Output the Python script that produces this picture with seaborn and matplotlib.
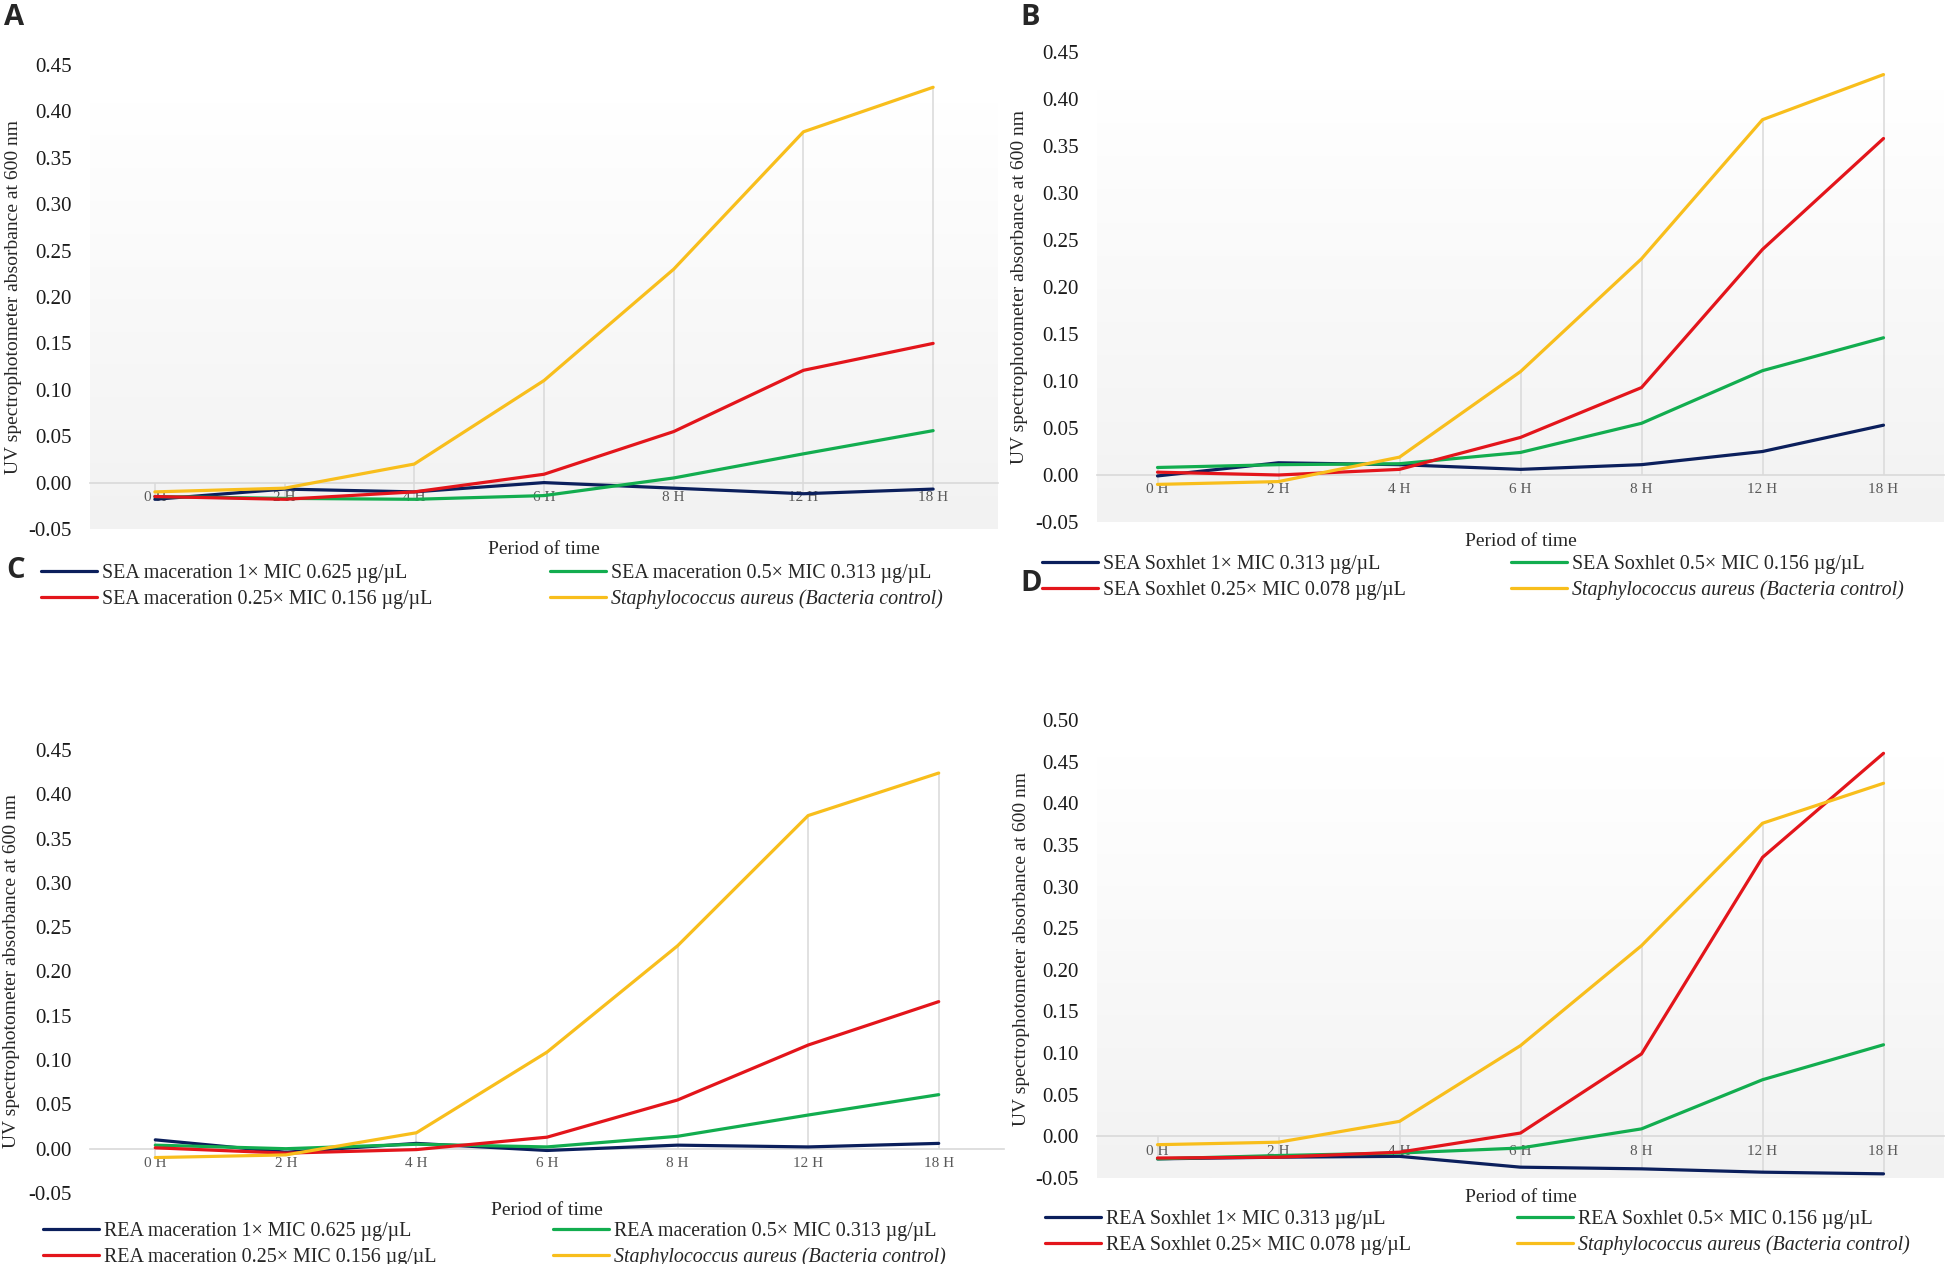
import numpy as np
import pandas as pd
import matplotlib.pyplot as plt
import seaborn as sns
from matplotlib.colors import LinearSegmentedColormap

sns.set_style("white")
plt.rcParams['font.family'] = ['Liberation Serif', 'DejaVu Serif']

hours = ["0 H", "2 H", "4 H", "6 H", "8 H", "12 H", "18 H"]

# control is the same bacteria in every panel
control_label = "Staphylococcus aureus (Bacteria control)"

# A - SEA maceration
a_labels = ["SEA maceration 1× MIC 0.625 µg/µL", "SEA maceration 0.5× MIC 0.313 µg/µL",
            "SEA maceration 0.25× MIC 0.156 µg/µL", control_label]
a_1x = [-0.018, -0.007, -0.010, 0.000, -0.006, -0.012, -0.007]
a_05x = [-0.015, -0.017, -0.018, -0.014, 0.005, 0.031, 0.056]
a_025x = [-0.015, -0.018, -0.010, 0.009, 0.055, 0.121, 0.150]
a_ctrl = [-0.010, -0.006, 0.020, 0.110, 0.230, 0.378, 0.426]

# B - SEA Soxhlet
b_labels = ["SEA Soxhlet 1× MIC 0.313 µg/µL", "SEA Soxhlet 0.5× MIC 0.156 µg/µL",
            "SEA Soxhlet 0.25× MIC 0.078 µg/µL", control_label]
b_1x = [-0.001, 0.013, 0.011, 0.006, 0.011, 0.025, 0.053]
b_05x = [0.008, 0.011, 0.012, 0.024, 0.055, 0.111, 0.146]
b_025x = [0.003, 0.000, 0.006, 0.040, 0.093, 0.240, 0.358]
b_ctrl = [-0.010, -0.007, 0.019, 0.110, 0.230, 0.378, 0.426]

# C - REA maceration
c_labels = ["REA maceration 1× MIC 0.625 µg/µL", "REA maceration 0.5× MIC 0.313 µg/µL",
            "REA maceration 0.25× MIC 0.156 µg/µL", control_label]
c_1x = [0.010, -0.004, 0.006, -0.002, 0.004, 0.002, 0.006]
c_05x = [0.004, 0.000, 0.005, 0.002, 0.014, 0.038, 0.061]
c_025x = [0.001, -0.005, -0.001, 0.013, 0.055, 0.117, 0.166]
c_ctrl = [-0.010, -0.007, 0.018, 0.109, 0.229, 0.376, 0.424]

# D - REA Soxhlet
d_labels = ["REA Soxhlet 1× MIC 0.313 µg/µL", "REA Soxhlet 0.5× MIC 0.156 µg/µL",
            "REA Soxhlet 0.25× MIC 0.078 µg/µL", control_label]
d_1x = [-0.027, -0.025, -0.024, -0.037, -0.039, -0.043, -0.045]
d_05x = [-0.027, -0.023, -0.020, -0.014, 0.009, 0.068, 0.110]
d_025x = [-0.026, -0.025, -0.019, 0.004, 0.099, 0.335, 0.460]
d_ctrl = [-0.010, -0.007, 0.018, 0.109, 0.229, 0.376, 0.424]

colors = ["#0B1F5C", "#12AD4F", "#E3151B", "#F8BE1C"]

W, H = 1946, 1264
fig = plt.figure(figsize=(W / 100, H / 100), dpi=100)

bg_cmap = LinearSegmentedColormap.from_list("bg", ["#f2f2f2", "#ffffff"])


def panel(rect, labels, series, ytop, gradient, ylab_x, xlab_y, leg_xy, colspace):
    l, t, r, b = rect
    ax = fig.add_axes([l / W, 1 - b / H, (r - l) / W, (b - t) / H])

    rows = []
    for lab, vals in zip(labels, series):
        for h, v in zip(hours, vals):
            rows.append({"Time": h, "Absorbance": v, "Series": lab})
    df = pd.DataFrame(rows)

    if gradient:
        grad = np.linspace(0, 1, 256).reshape(-1, 1)
        ax.imshow(grad, extent=[0, 1, 0, 0.92], transform=ax.transAxes, aspect="auto",
                  cmap=bg_cmap, origin="lower", zorder=0)

    # drop lines from every point to the axis
    allv = np.array(series)
    ax.vlines(hours, np.minimum(allv.min(axis=0), 0), np.maximum(allv.max(axis=0), 0),
              color="#d9d9d9", lw=1.1, zorder=1)

    sns.lineplot(data=df, x="Time", y="Absorbance", hue="Series", hue_order=labels,
                 palette=colors, linewidth=2.3, sort=False, legend=False, ax=ax, zorder=3)

    ax.set_xlim(-0.5, 6.5)
    ax.set_ylim(-0.05, ytop)
    ax.set_yticks(np.arange(-0.05, ytop + 0.001, 0.05))
    ax.set_yticklabels([f"{v:.2f}" for v in np.arange(-0.05, ytop + 0.001, 0.05)])

    for s in ["top", "right", "left"]:
        ax.spines[s].set_visible(False)
    ax.spines["bottom"].set_position(("data", 0))
    ax.spines["bottom"].set_color("#d9d9d9")
    ax.spines["bottom"].set_linewidth(1.2)
    ax.spines["bottom"].set_zorder(1)
    ax.tick_params(axis="x", length=0, pad=6, labelsize=11, labelcolor="#595959")
    ax.tick_params(axis="y", length=0, pad=13, labelsize=15, labelcolor="#1a1a1a")

    ax.set_ylabel("UV spectrophotometer absorbance at 600 nm", fontsize=14)
    ax.yaxis.set_label_coords(ylab_x, 0.5)
    ax.set_xlabel("Period of time", fontsize=14, va="top")
    ax.xaxis.set_label_coords(0.5, xlab_y)

    lines = ax.get_lines()[:4]
    order = [0, 2, 1, 3]
    leg = ax.legend([lines[i] for i in order], [labels[i] for i in order], ncol=2,
                    loc="upper left", bbox_to_anchor=(leg_xy[0] / W, 1 - leg_xy[1] / H),
                    bbox_transform=fig.transFigure, frameon=False, fontsize=14.4,
                    borderpad=0, borderaxespad=0, handlelength=2.8, handletextpad=0.25,
                    columnspacing=colspace, labelspacing=0.33)
    leg.get_texts()[3].set_fontstyle("italic")
    for hnd in leg.legend_handles:
        hnd.set_linewidth(2.3)
    return ax


panel((90, 65, 998, 529), a_labels, [a_1x, a_05x, a_025x, a_ctrl], 0.45, True,
      -0.075, -0.026, (41, 564), 5.9)
panel((1097, 52, 1944, 522), b_labels, [b_1x, b_05x, b_025x, b_ctrl], 0.45, True,
      -0.081, -0.023, (1042, 555), 5.25)
panel((90, 750, 1004, 1193), c_labels, [c_1x, c_05x, c_025x, c_ctrl], 0.45, False,
      -0.077, -0.021, (43, 1222), 5.8)
panel((1097, 720, 1944, 1178), d_labels, [d_1x, d_05x, d_025x, d_ctrl], 0.50, True,
      -0.079, -0.023, (1045, 1210), 5.3)

# panel letters
for txt, x, y in [("A", 4, 3), ("B", 1020, 3), ("C", 6, 556), ("D", 1020, 569)]:
    fig.text(x / W, 1 - y / H, txt, ha="left", va="top", fontsize=21,
             fontweight="bold", family=["Open Sans", "DejaVu Sans"])

plt.savefig("out.png", dpi=100)
